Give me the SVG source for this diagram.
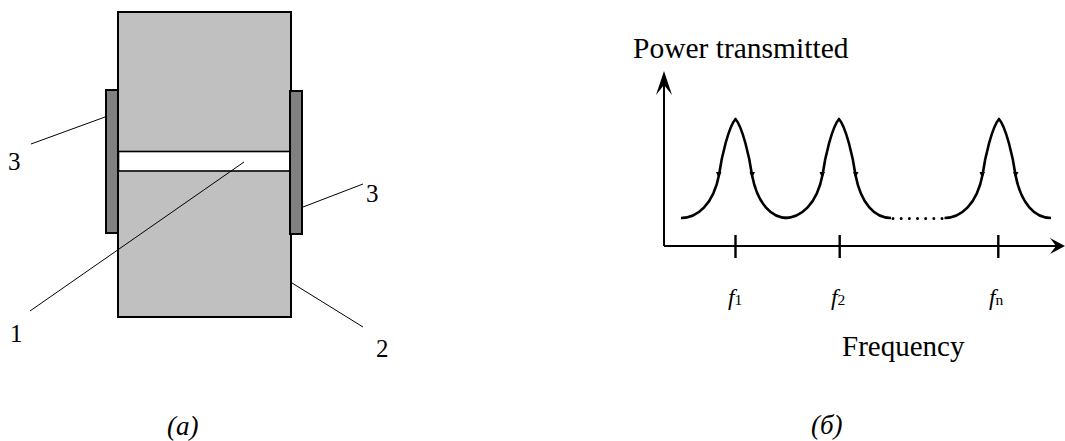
<svg xmlns="http://www.w3.org/2000/svg" width="1065" height="441" viewBox="0 0 1065 441">
<style>
text{font-family:"Liberation Serif","Times New Roman",serif;fill:#000}
.n{font-size:25px}.t{font-size:29.5px}.s{font-size:15.5px;font-style:normal}.f{font-size:23.5px;font-style:italic}.c{font-size:27px;font-style:italic}
.body{fill:#c0c0c0;stroke:#000;stroke-width:2}
.el{fill:#808080;stroke:#000;stroke-width:2}
.lead{fill:none;stroke:#000;stroke-width:1}
.curve{fill:none;stroke:#000;stroke-width:2.6;stroke-linejoin:round}
.axis{fill:none;stroke:#000;stroke-width:2}
.tick{fill:none;stroke:#000;stroke-width:2.4}
</style>
<defs>
<g id="peak">
<path class="curve" d="M-54.500 99C-38 99 -22 85 -16.500 56M-16.500 56C-14 38 -7 8 0 0C7 8 14 38 16.500 56M16.500 56C22 85 36 99 52 99"/>
<path d="M-19.500 53L-14 53L-17 59ZM14 53L19.500 53L16.500 59Z" fill="#000"/>
</g>
</defs>
<g id="body"><rect class="body" x="118" y="12" width="173" height="305"/></g>
<g id="gap"><rect fill="#fff" stroke="#000" stroke-width="1.600" x="118.500" y="151.500" width="172" height="19.500"/></g>
<g id="electrode-left"><rect class="el" x="106" y="90" width="12" height="143"/></g>
<g id="electrode-right"><rect class="el" x="290" y="91" width="12" height="143"/></g>
<g id="connectors">
<path class="lead" d="M31 144L105 117M30 311L244 162M303 207L363 184M292 283L363 327"/>
</g>
<g id="labels-a">
<text class="n" x="8" y="170">3</text>
<text class="n" x="366" y="202">3</text>
<text class="n" x="10" y="342">1</text>
<text class="n" x="376" y="357">2</text>
<text class="c" x="167" y="435">(а)</text>
<text class="c" x="811" y="434">(б)</text>
</g>
<g id="chart">
<path class="axis" d="M664 246V85M664 246H1056"/>
<path d="M664 71L672 95L664 85L656 95ZM1065 246L1050 238L1056 246L1050 254Z" fill="#000"/>
<path class="tick" d="M735.500 235V258M839.700 235V258M998.300 235V258"/>
<use href="#peak" x="735.500" y="119"/>
<use href="#peak" x="839" y="119"/>
<use href="#peak" x="999" y="119"/>
<path d="M893 218.500H943" fill="none" stroke="#000" stroke-width="3" stroke-linecap="round" stroke-dasharray="0 8.170"/>
<text class="t" x="633" y="58">Power transmitted</text>
<text class="t" x="842" y="356" style="font-size:29px">Frequency</text>
<text class="f" x="728" y="305">f<tspan class="s">1</tspan></text>
<text class="f" x="831" y="305">f<tspan class="s">2</tspan></text>
<text class="f" x="989" y="305">f<tspan class="s">n</tspan></text>
</g>
</svg>
